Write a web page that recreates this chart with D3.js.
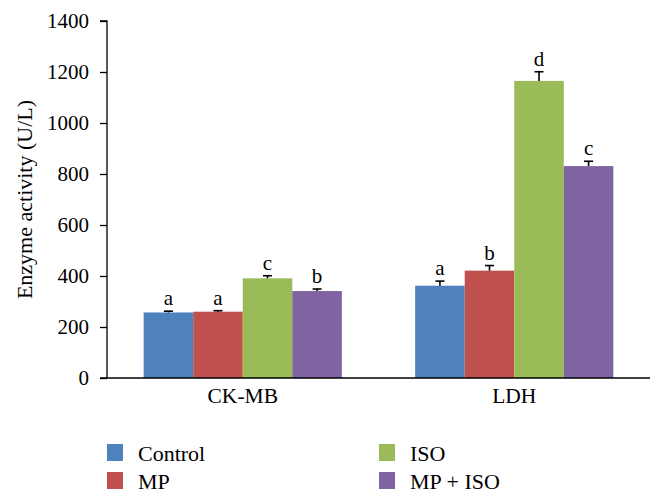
<!DOCTYPE html>
<html>
<head>
<meta charset="utf-8">
<script src="https://cdn.jsdelivr.net/npm/d3@7"></script>
</head>
<body style="margin:0;background:#fff">
<svg id="chart" width="664" height="503" font-family="Liberation Serif"></svg>
<script>
const categories = ["CK-MB", "LDH"];
const seriesNames = ["Control", "MP", "ISO", "MP + ISO"];
const seriesColors = ["#4F81BD", "#C0504D", "#9BBB59", "#8064A2"];
const controlValues = [257, 362];
const mpValues = [260, 421];
const isoValues = [391, 1165];
const mpIsoValues = [341, 831];
const controlErr = [5, 18];
const mpErr = [4, 20];
const isoErr = [10, 36];
const mpIsoErr = [8, 19];
const controlLetters = ["a", "a"];
const mpLetters = ["a", "b"];
const isoLetters = ["c", "d"];
const mpIsoLetters = ["b", "c"];
const yTicks = [0, 200, 400, 600, 800, 1000, 1200, 1400];
const yTitle = "Enzyme activity (U/L)";

const FONT = "Liberation Serif";

const series = [
  {name: seriesNames[0], color: seriesColors[0], values: controlValues, err: controlErr, letters: controlLetters},
  {name: seriesNames[1], color: seriesColors[1], values: mpValues, err: mpErr, letters: mpLetters},
  {name: seriesNames[2], color: seriesColors[2], values: isoValues, err: isoErr, letters: isoLetters},
  {name: seriesNames[3], color: seriesColors[3], values: mpIsoValues, err: mpIsoErr, letters: mpIsoLetters}
];

const svg = d3.select("#chart");
const x0 = 107, x1 = 650, yBottom = 378, yTop = 21;
const x = d3.scaleBand().domain(categories).range([x0, x1]).paddingInner(0.27).paddingOuter(0.135);
const xs = d3.scaleBand().domain(seriesNames).range([0, x.bandwidth()]);
const y = d3.scaleLinear().domain([0, 1400]).range([yBottom, yTop]);

const g = svg.append("g");
series.forEach(s => {
  categories.forEach((c, i) => {
    const bx = x(c) + xs(s.name);
    g.append("rect")
      .attr("x", bx).attr("y", y(s.values[i]))
      .attr("width", xs.bandwidth()).attr("height", y(0) - y(s.values[i]))
      .attr("fill", s.color);
  });
});
series.forEach(s => {
  categories.forEach((c, i) => {
    const cx = x(c) + xs(s.name) + xs.bandwidth() / 2;
    const top = y(s.values[i] + s.err[i]);
    const base = y(s.values[i]);
    g.append("line").attr("x1", cx).attr("x2", cx).attr("y1", base).attr("y2", top)
      .attr("stroke", "#000").attr("stroke-width", 1.6);
    g.append("line").attr("x1", cx - 4.5).attr("x2", cx + 4.5).attr("y1", top).attr("y2", top)
      .attr("stroke", "#000").attr("stroke-width", 1.6);
    g.append("text").attr("x", cx).attr("y", top - 6)
      .attr("text-anchor", "middle")
      .attr("font-family", FONT).style("font-family", FONT).style("font-size", "21px")
      .attr("fill", "#000")
      .text(s.letters[i]);
  });
});

// y axis
const yAxis = d3.axisLeft(y).tickValues(yTicks).tickSize(7).tickPadding(11).tickFormat(d3.format("d"));
const ya = svg.append("g").attr("transform", `translate(${x0},0)`).call(yAxis);
ya.attr("font-family", FONT).attr("font-size", 21);
ya.select(".domain").attr("stroke", "#000").attr("stroke-width", 1.3).attr("d", `M-7,${yTop}H0V${yBottom}`);
ya.selectAll(".tick line").attr("stroke", "#000").attr("stroke-width", 1.3);
ya.selectAll(".tick text").attr("font-family", FONT).style("font-family", FONT).style("font-size", "21px").attr("fill", "#000");

// x axis
const xAxis = d3.axisBottom(x).tickSize(0).tickPadding(10);
const xa = svg.append("g").attr("transform", `translate(0,${yBottom})`).call(xAxis);
xa.attr("font-family", FONT).attr("font-size", 21.5);
xa.select(".domain").attr("stroke", "#000").attr("stroke-width", 1.3).attr("d", `M${x0 - 7},0H${x1}`);
xa.selectAll(".tick text").attr("dy", null).attr("y", 25)
  .attr("font-family", FONT).style("font-family", FONT).style("font-size", "21.5px").attr("fill", "#000");

// y title
svg.append("text").attr("transform", `translate(32,${(yTop + yBottom) / 2}) rotate(-90)`)
  .attr("text-anchor", "middle")
  .attr("font-family", FONT).style("font-family", FONT).style("font-size", "22px")
  .attr("fill", "#000").text(yTitle);

// legend
const legendPos = [[107, 444], [107, 472], [379, 444], [379, 472]];
series.forEach((s, i) => {
  const [lx, ly] = legendPos[i];
  svg.append("rect").attr("x", lx).attr("y", ly).attr("width", 16).attr("height", 17).attr("fill", s.color);
  svg.append("text").attr("x", lx + 31).attr("y", ly + 17)
    .attr("font-family", FONT).style("font-family", FONT).style("font-size", "22px")
    .attr("fill", "#000").text(s.name);
});
</script>
</body>
</html>
